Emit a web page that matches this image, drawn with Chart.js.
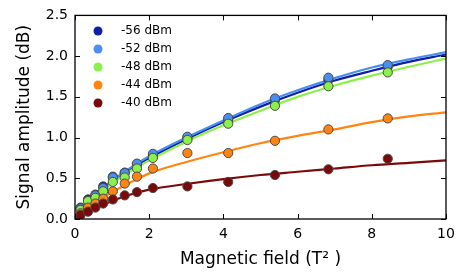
<!DOCTYPE html>
<html>
<head>
<meta charset="utf-8">
<script src="https://cdn.jsdelivr.net/npm/chart.js@4"></script>
<style>
  html, body { margin: 0; padding: 0; background: #fff; }
  #wrap { width: 469px; height: 274px; }
</style>
</head>
<body>
<div id="wrap"><canvas id="chart1" width="469" height="274"></canvas></div>
<script>
"use strict";

// DATA

const powers = ['-56 dBm', '-52 dBm', '-48 dBm', '-44 dBm', '-40 dBm'];
const colors = ['#0f1fa6', '#4a8ef0', '#8cf04a', '#ff8412', '#7a0a0a'];

const fieldX = [0.15, 0.35, 0.55, 0.76, 1.02, 1.34, 1.67, 2.1, 3.03, 4.13, 5.39, 6.83, 8.43];

const amp56 = [0.14, 0.24, 0.30, 0.40, 0.52, 0.57, 0.67, 0.78, 1.00, 1.22, 1.46, 1.71, 1.87];
const amp52 = [0.13, 0.22, 0.29, 0.38, 0.51, 0.565, 0.68, 0.80, 1.01, 1.24, 1.48, 1.735, 1.89];
const amp48 = [0.11, 0.22, 0.26, 0.34, 0.455, 0.51, 0.62, 0.75, 0.97, 1.17, 1.39, 1.63, 1.80];
const amp44 = [0.07, 0.14, 0.19, 0.25, 0.34, 0.435, 0.52, 0.62, 0.81, 0.81, 0.96, 1.10, 1.235];
const amp40 = [0.05, 0.09, 0.14, 0.19, 0.24, 0.29, 0.33, 0.38, 0.40, 0.455, 0.54, 0.61, 0.74];

// fit curves, sampled by eye
const fitX = [0, 0.5, 1, 1.5, 2, 3, 4, 5, 6, 7, 8, 9, 10];
const fit56 = [0, 0.26, 0.46, 0.62, 0.75, 0.98, 1.19, 1.38, 1.55, 1.70, 1.82, 1.93, 2.02];
const fit52 = [0, 0.27, 0.47, 0.63, 0.77, 1.00, 1.21, 1.41, 1.58, 1.73, 1.86, 1.96, 2.05];
const fit48 = [0, 0.25, 0.44, 0.59, 0.72, 0.95, 1.15, 1.33, 1.50, 1.64, 1.76, 1.87, 1.97];
const fit44 = [0, 0.18, 0.33, 0.45, 0.56, 0.70, 0.82, 0.93, 1.02, 1.10, 1.19, 1.26, 1.31];
const fit40 = [0, 0.12, 0.22, 0.30, 0.36, 0.43, 0.49, 0.54, 0.58, 0.62, 0.66, 0.69, 0.72];

const xTicks = [0, 2, 4, 6, 8, 10];
const yTicks = [0, 0.5, 1, 1.5, 2, 2.5];

const ampSeries = [amp56, amp52, amp48, amp44, amp40];
const fitSeries = [fit56, fit52, fit48, fit44, fit40];

const toPoints = (xs, ys) => xs.map((x, i) => ({x: x, y: ys[i]}));

// lines behind, points on top (later power on top)
const datasets = [];
fitSeries.forEach((f, i) => {
    datasets.push({
        label: 'fit ' + powers[i],
        data: toPoints(fitX, f),
        showLine: true,
        borderColor: colors[i],
        borderWidth: 2.2,
        pointRadius: 0,
        cubicInterpolationMode: 'monotone',
        order: 20 - i
    });
});
ampSeries.forEach((a, i) => {
    datasets.push({
        label: powers[i],
        data: toPoints(fieldX, a),
        showLine: false,
        backgroundColor: colors[i],
        borderColor: '#4a4a4a',
        borderWidth: 1,
        pointRadius: 4.6,
        order: 10 - i
    });
});

// frame + inward ticks on all sides
const framePlugin = {
    id: 'frame',
    afterDraw(chart) {
        const {ctx, chartArea: a, scales} = chart;
        ctx.save();
        ctx.strokeStyle = '#000';
        ctx.lineWidth = 1.3;
        ctx.strokeRect(a.left, a.top, a.right - a.left, a.bottom - a.top);
        ctx.lineWidth = 1;
        ctx.beginPath();
        xTicks.forEach(v => {
            const px = Math.round(scales.x.getPixelForValue(v)) + 0.5;
            ctx.moveTo(px, a.bottom); ctx.lineTo(px, a.bottom - 5);
            ctx.moveTo(px, a.top); ctx.lineTo(px, a.top + 5);
        });
        yTicks.forEach(v => {
            const py = Math.round(scales.y.getPixelForValue(v)) + 0.5;
            ctx.moveTo(a.left, py); ctx.lineTo(a.left + 5, py);
            ctx.moveTo(a.right, py); ctx.lineTo(a.right - 5, py);
        });
        ctx.stroke();

        // legend
        ctx.font = '12px "DejaVu Sans"';
        ctx.textBaseline = 'middle';
        ctx.textAlign = 'left';
        powers.forEach((p, i) => {
            const y = 31 + i * 18;
            ctx.beginPath();
            ctx.fillStyle = colors[i];
            ctx.arc(98, y, 4.5, 0, Math.PI * 2);
            ctx.fill();
            ctx.fillStyle = '#000';
            ctx.fillText(p, 121, y);
        });
        ctx.restore();
    }
};

Chart.defaults.font.family = '"DejaVu Sans", sans-serif';
Chart.defaults.color = '#000';

const ctx = document.getElementById('chart1').getContext('2d');

const myChart = new Chart(ctx, {
    type: 'scatter',
    data: { datasets: datasets },
    options: {
        responsive: false,
        animation: false,
        layout: { padding: { left: 0, right: 23, top: 14, bottom: 0 } },
        plugins: {
            legend: { display: false },
            tooltip: { enabled: false }
        },
        scales: {
            x: {
                type: 'linear',
                min: 0,
                max: 10,
                afterBuildTicks: s => { s.ticks = xTicks.map(v => ({value: v})); },
                afterFit: s => { s.height = 55; },
                grid: { display: false, drawTicks: false },
                border: { display: false },
                ticks: { font: { size: 14 }, padding: 7, maxRotation: 0 },
                title: {
                    display: true,
                    text: 'Magnetic field (T\u00b2 )',
                    font: { size: 17 },
                    padding: { top: 0, bottom: 4 }
                }
            },
            y: {
                type: 'linear',
                min: 0,
                max: 2.5,
                afterBuildTicks: s => { s.ticks = yTicks.map(v => ({value: v})); },
                afterFit: s => { s.width = 75; },
                grid: { display: false, drawTicks: false },
                border: { display: false },
                ticks: {
                    font: { size: 14 },
                    padding: 7,
                    callback: v => Number(v).toFixed(1)
                },
                title: {
                    display: true,
                    text: 'Signal amplitude (dB)',
                    font: { size: 17 },
                    padding: { top: 14, bottom: 0 }
                }
            }
        }
    },
    plugins: [framePlugin]
});
</script>
</body>
</html>
